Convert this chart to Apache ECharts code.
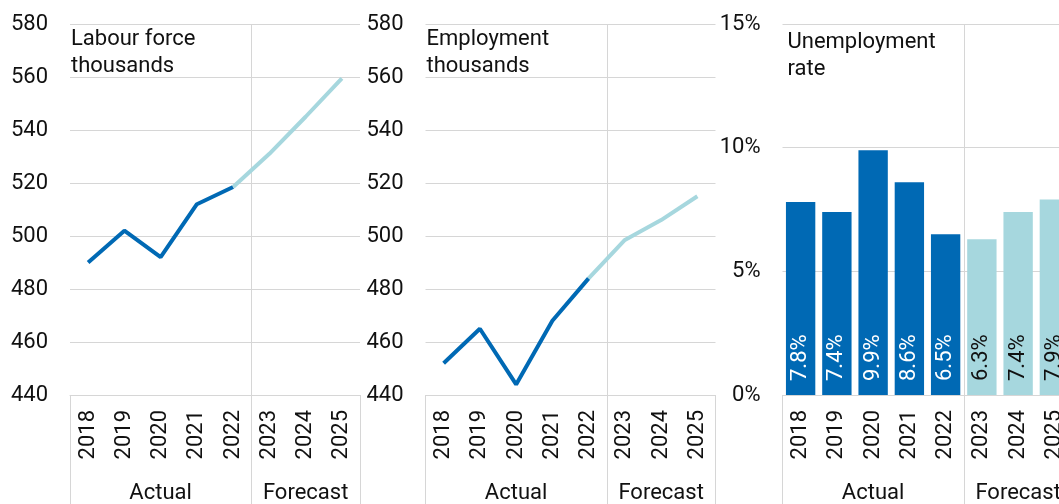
<!DOCTYPE html>
<html>
<head>
<meta charset="utf-8">
<script src="https://cdn.jsdelivr.net/npm/echarts@6/dist/echarts.min.js"></script>
<style>
  html, body { margin: 0; padding: 0; background: #fff; }
  #chart { width: 1059px; height: 504px; }
</style>
</head>
<body>
<div id="chart"></div>
<script>
  // data
  var years = ['2018', '2019', '2020', '2021', '2022', '2023', '2024', '2025'];
  var actualCount = 5; // first 5 years are actual, the rest forecast
  var periodLabels = ['Actual', 'Forecast'];
  var labourForce = [490, 502, 492, 512, 518.5, 531, 545, 559.5];
  var employment = [452, 465, 444, 468, 484, 498.5, 506, 515];
  var unemploymentRate = [7.8, 7.4, 9.9, 8.6, 6.5, 6.3, 7.4, 7.9];
  var thousandsTicks = [440, 580, 20]; // min, max, step
  var rateTicks = [0, 15, 5];
  var titles = ['Labour force\nthousands', 'Employment\nthousands', 'Unemployment\nrate'];

  var DARK = '#0069b4';
  var LIGHT = '#a6d7de';
  var GRID_COLOR = '#d6d6d6';
  var TEXT = '#111111';
  var FONT = 'Roboto';
  var FS = 22;

  var panelLeft = [70, 425.5, 782.5];
  var panelWidth = 290;

  var chart = echarts.init(document.getElementById('chart'), null, { renderer: 'canvas' });

  function isBoundary(i) {
    return i === 0 || i === actualCount;
  }

  var grids = [], xAxes = [], yAxes = [], titleList = [];
  panelLeft.forEach(function (left, p) {
    grids.push({ left: left, width: panelWidth, top: 24, bottom: 109, outerBoundsMode: 'none', containLabel: false });

    titleList.push({
      text: titles[p],
      left: p === 2 ? left + 5 : left + 1,
      top: p === 2 ? 29 : 26,
      padding: 0,
      textStyle: { fontFamily: FONT, fontSize: FS, fontWeight: 'normal', color: TEXT, lineHeight: 27 }
    });

    // year axis
    xAxes.push({
      gridIndex: p,
      type: 'category',
      data: years,
      boundaryGap: true,
      axisLine: { show: true, lineStyle: { color: GRID_COLOR, width: 1 } },
      axisTick: { show: true, interval: isBoundary, length: 110, lineStyle: { color: GRID_COLOR } },
      axisLabel: { interval: 0, rotate: 90, margin: 15, fontFamily: FONT, fontSize: FS, color: TEXT },
      splitLine: {
        show: true,
        interval: isBoundary,
        lineStyle: { color: ['rgba(0,0,0,0)', GRID_COLOR, 'rgba(0,0,0,0)'], width: 1 }
      }
    });

    // Actual / Forecast axis
    var midActual = Math.floor((actualCount - 1) / 2);
    var midForecast = actualCount + Math.floor((years.length - actualCount - 1) / 2);
    xAxes.push({
      gridIndex: p,
      type: 'category',
      data: years,
      position: 'bottom',
      axisLine: { show: false },
      axisTick: { show: false },
      splitLine: { show: false },
      axisLabel: {
        interval: function (i) { return i === midActual || i === midForecast; },
        margin: 87,
        fontFamily: FONT,
        fontSize: FS,
        color: TEXT,
        formatter: function (v, i) { return i < actualCount ? periodLabels[0] : periodLabels[1]; }
      }
    });

    var t = p === 2 ? rateTicks : thousandsTicks;
    yAxes.push({
      gridIndex: p,
      type: 'value',
      min: t[0],
      max: t[1],
      interval: t[2],
      axisLine: { show: false },
      axisTick: { show: false },
      axisLabel: {
        margin: 22,
        fontFamily: FONT,
        fontSize: FS,
        color: TEXT,
        formatter: p === 2 ? '{value}%' : '{value}'
      },
      splitLine: { show: true, lineStyle: { color: GRID_COLOR, width: 1 } }
    });
  });

  function lineSeries(values, panel) {
    var base = {
      type: 'line',
      xAxisIndex: panel * 2,
      yAxisIndex: panel,
      symbol: 'none',
      silent: true
    };
    return [
      Object.assign({}, base, {
        data: values.map(function (v, i) { return i < actualCount ? v : '-'; }),
        lineStyle: { color: DARK, width: 4 }
      }),
      Object.assign({}, base, {
        data: values.map(function (v, i) { return i >= actualCount - 1 ? v : '-'; }),
        lineStyle: { color: LIGHT, width: 4 }
      })
    ];
  }

  var series = [].concat(lineSeries(labourForce, 0), lineSeries(employment, 1));

  series.push({
    type: 'bar',
    xAxisIndex: 4,
    yAxisIndex: 2,
    barCategoryGap: '19%',
    silent: true,
    label: {
      show: true,
      position: 'insideBottom',
      rotate: 90,
      align: 'left',
      verticalAlign: 'middle',
      distance: 14,
      fontFamily: FONT,
      fontSize: FS,
      formatter: '{c}%'
    },
    data: unemploymentRate.map(function (v, i) {
      var actual = i < actualCount;
      return {
        value: v,
        itemStyle: { color: actual ? DARK : LIGHT },
        label: { color: actual ? '#ffffff' : TEXT }
      };
    })
  });

  chart.setOption({
    animation: false,
    backgroundColor: '#ffffff',
    title: titleList,
    grid: grids,
    xAxis: xAxes,
    yAxis: yAxes,
    series: series
  });
</script>
</body>
</html>
